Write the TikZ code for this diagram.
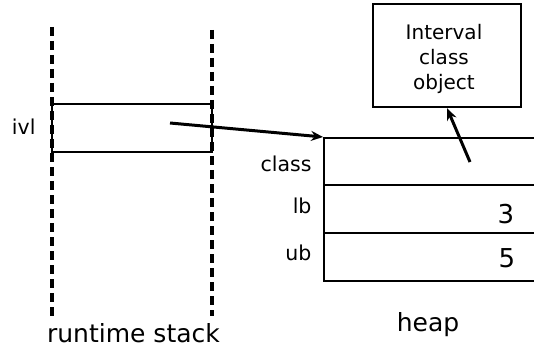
\documentclass[tikz,border=0pt]{standalone}
\usepackage{fontspec}
\setmainfont{DejaVu Sans}
\usetikzlibrary{arrows.meta}
\begin{document}
\begin{tikzpicture}[x=1pt,y=-1pt,
  dashline/.style={line width=3.4pt,dash pattern=on 9pt off 5pt},
  cell/.style={draw,line width=2.4pt},
  ptr/.style={line width=3pt,-{Stealth[length=12pt,width=10pt]}},
  lbl/.style={font=\fontsize{20.5}{22}\selectfont},
  big/.style={font=\fontsize{25}{27}\selectfont},
  val/.style={font=\fontsize{26}{28}\selectfont}]
\useasboundingbox (0,0) rectangle (534,347);
% runtime stack
\coordinate (l1) at (52,27); \coordinate (l2) at (52,318);
\coordinate (r1) at (212,30); \coordinate (r2) at (212,316);
\draw[dashline] (l1) -- (l2);
\draw[dashline] (r1) -- (r2);
\node[cell,minimum width=160pt,minimum height=48pt,inner sep=0pt] (ivlbox) at (132,128) {};
\node[lbl,anchor=east] (ivl) at (39,127) {ivl};
\node[big] (rs) at (133.5,333) {runtime stack};
% heap
\node[cell,minimum width=230pt,minimum height=47pt,inner sep=0pt,anchor=north west] (hclass) at (323,137) {};
\node[cell,minimum width=230pt,minimum height=48pt,inner sep=0pt,anchor=north west] (hlb) at (323,184) {};
\node[cell,minimum width=230pt,minimum height=48pt,inner sep=0pt,anchor=north west] (hub) at (323,232) {};
\node[lbl,anchor=east] (lclass) at (315,164) {class};
\node[lbl,anchor=east] (llb) at (315,206) {lb};
\node[lbl,anchor=east] (lub) at (315,253) {ub};
\node[val] (v3) at (506,214) {3};
\node[val] (v5) at (507,258) {5};
\node[big] (hp) at (428,325) {heap};
% interval class object
\node[cell,minimum width=148pt,minimum height=103pt,inner sep=0pt] (icls) at (447,55.5) {};
\node[font=\fontsize{20}{25}\selectfont,align=center] (ictext) at (444,59) {Interval\\class\\object};
% pointers
\coordinate (p1) at (170,123);
\coordinate (p2) at (470,162);
\draw[ptr] (p1) -- (hclass.north west);
\draw[ptr] (p2) -- (icls.south -| 447,0);
\end{tikzpicture}
\end{document}
